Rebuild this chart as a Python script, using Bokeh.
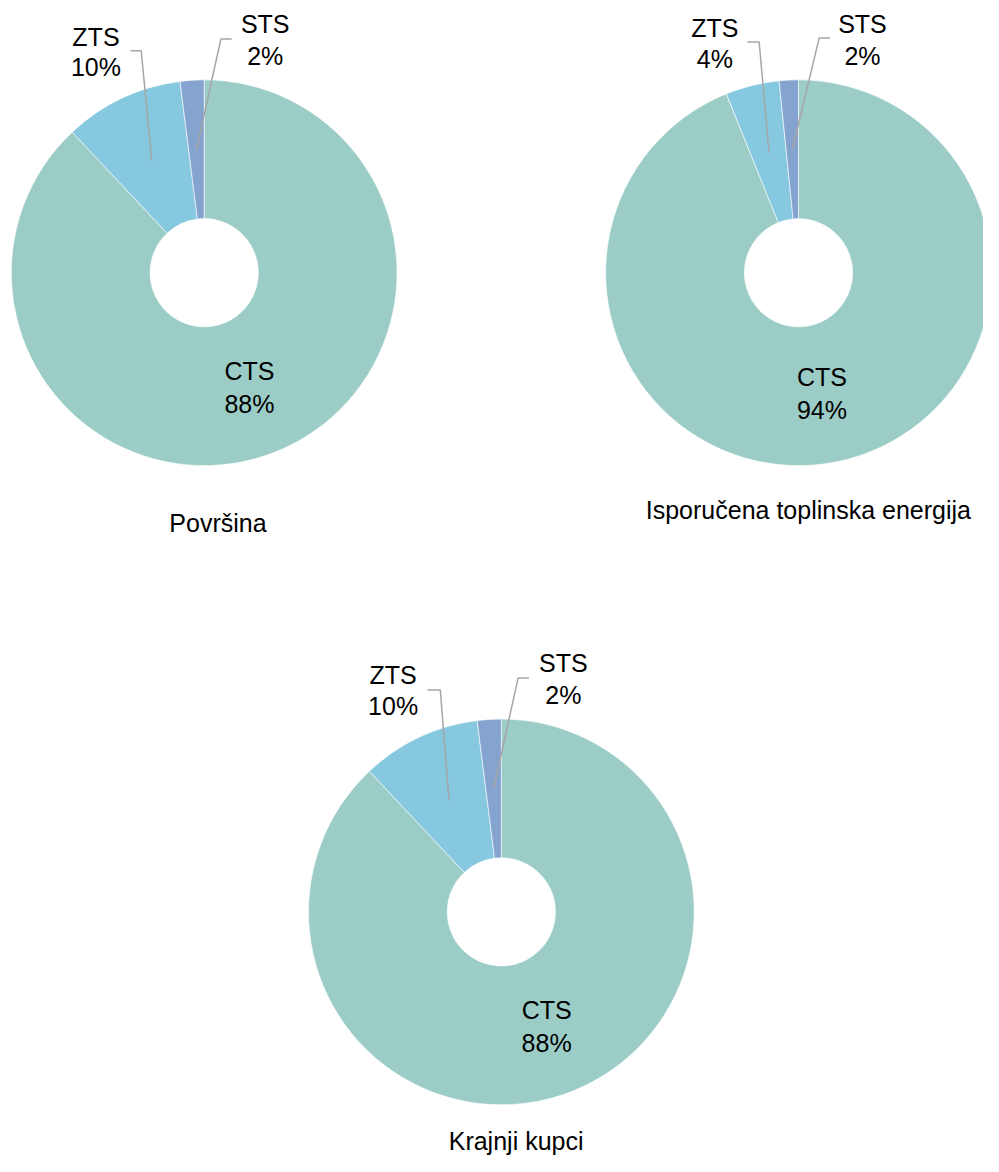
import math
from bokeh.plotting import figure
from bokeh.models import Range1d, ColumnDataSource
from bokeh.core.properties import value
from bokeh.embed import file_html
from bokeh.resources import INLINE

# ---------------- data ----------------
categories = ["CTS", "ZTS", "STS"]
povrsina = [88.0, 10.0, 2.0]
energija = [93.9, 4.5, 1.6]
kupci = [88.0, 10.0, 2.0]
labels_povrsina = ["88%", "10%", "2%"]
labels_energija = ["94%", "4%", "2%"]
labels_kupci = ["88%", "10%", "2%"]
titles = ["Površina", "Isporučena toplinska energija", "Krajnji kupci"]
colors = ["#9BCCC6", "#86C8DF", "#85A3CF"]

# ---------------- layout ----------------
W, H = 983, 1156          # figure size in screen px
RW, RH = 999, 1172        # layout coordinate space


def sy(y):  # layout y (down) -> data y (up)
    return RH - y


R_OUT, R_IN = 196, 55
R_LAB = 125
FONT = value("Liberation Sans")
FS = "25px"

charts = [
    dict(cx=207, cy=276, vals=povrsina, labs=labels_povrsina, title=titles[0],
         tdx=14, tdy=254,
         side=[dict(name=(-110, -239), pct=(-110, -209), end=(-75, -225), elbow=(-64, -225)),
               dict(name=(62, -252), pct=(62, -220), end=(28, -237), elbow=(17, -237))]),
    dict(cx=811, cy=276, vals=energija, labs=labels_energija, title=titles[1],
         tdx=10, tdy=241,
         side=[dict(name=(-85, -248), pct=(-85, -217), end=(-52, -234), elbow=(-40, -234)),
               dict(name=(65, -252), pct=(65, -220), end=(32, -238), elbow=(21, -238))]),
    dict(cx=509, cy=924, vals=kupci, labs=labels_kupci, title=titles[2],
         tdx=15, tdy=232,
         side=[dict(name=(-110, -240), pct=(-110, -209), end=(-75, -225), elbow=(-62, -225)),
               dict(name=(63, -252), pct=(63, -220), end=(28, -237), elbow=(17, -237))]),
]

p = figure(width=W, height=H, output_backend="svg", toolbar_location=None,
           x_range=Range1d(0, RW), y_range=Range1d(0, RH), min_border=0)
p.xaxis.visible = False
p.yaxis.visible = False
p.xgrid.visible = False
p.ygrid.visible = False
p.outline_line_color = None
p.background_fill_color = "white"
p.border_fill_color = "white"

for ch in charts:
    cx, cy = ch["cx"], ch["cy"]
    vals = ch["vals"]
    tot = sum(vals)
    cum = [0.0]
    for v in vals:
        cum.append(cum[-1] + v / tot)
    starts = [math.pi / 2 - 2 * math.pi * cum[i] for i in range(3)]
    ends = [math.pi / 2 - 2 * math.pi * cum[i + 1] for i in range(3)]
    src = ColumnDataSource(dict(x=[cx] * 3, y=[sy(cy)] * 3, s=starts, e=ends, c=colors))
    p.annular_wedge(x="x", y="y", inner_radius=R_IN, outer_radius=R_OUT,
                    start_angle="s", end_angle="e", direction="clock",
                    fill_color="c", line_color="white", line_width=0.6, source=src)

    mids = [math.pi / 2 - 2 * math.pi * (cum[i] + cum[i + 1]) / 2 for i in range(3)]
    # CTS label inside
    ax = cx + R_LAB * math.cos(mids[0])
    ay = sy(cy) + R_LAB * math.sin(mids[0])
    p.text(x=[ax, ax], y=[ay + 16.5, ay - 16.5], text=[categories[0], ch["labs"][0]],
           text_font=FONT, text_font_size=FS, text_align="center",
           text_baseline="middle", text_color="#000000")
    # outer labels with leader lines
    for k, sd in zip([1, 2], ch["side"]):
        axk = cx + R_LAB * math.cos(mids[k])
        ayk = sy(cy) + R_LAB * math.sin(mids[k])
        p.line(x=[cx + sd["end"][0], cx + sd["elbow"][0], axk],
               y=[sy(cy + sd["end"][1]), sy(cy + sd["elbow"][1]), ayk],
               line_color="#A6A6A6", line_width=1.5)
        p.text(x=[cx + sd["name"][0], cx + sd["pct"][0]],
               y=[sy(cy + sd["name"][1]), sy(cy + sd["pct"][1])],
               text=[categories[k], ch["labs"][k]],
               text_font=FONT, text_font_size=FS, text_align="center",
               text_baseline="middle", text_color="#000000")
    p.text(x=[cx + ch["tdx"]], y=[sy(cy + ch["tdy"])], text=[ch["title"]],
           text_font=FONT, text_font_size=FS, text_align="center",
           text_baseline="middle", text_color="#000000")

open("out.html", "w").write(file_html(p, INLINE))
